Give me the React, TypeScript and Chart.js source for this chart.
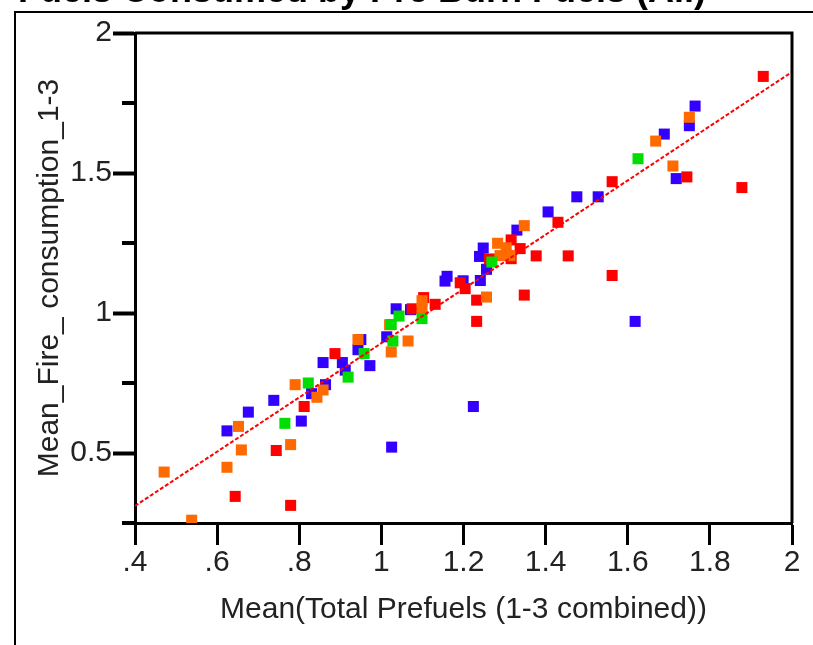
import React, { useEffect, useRef } from 'react';
import { Chart, registerables } from 'chart.js';

Chart.register(...registerables);

const chartTitle = 'Fuels Consumed by Pre Burn Fuels (All)';
const xAxisTitle = 'Mean(Total Prefuels (1-3 combined))';
const yAxisTitle = 'Mean_Fire_ consumption_1-3';

const xTickValues = [0.4, 0.6, 0.8, 1, 1.2, 1.4, 1.6, 1.8, 2];
const xTickLabels = ['.4', '.6', '.8', '1', '1.2', '1.4', '1.6', '1.8', '2'];
const yTickValues = [0.5, 1, 1.5, 2];
const yTickLabels = ['0.5', '1', '1.5', '2'];
const yMinorTickValues = [0.25, 0.75, 1.25, 1.75];

const blueX = [0.624, 0.676, 0.738, 0.805, 0.83, 0.864, 0.858, 0.905, 0.912, 0.972, 0.943, 0.95, 1.013, 1.036, 1.071, 1.025, 1.224, 1.16, 1.155, 1.199, 1.241, 1.256, 1.248, 1.239, 1.33, 1.406, 1.476, 1.528, 1.618, 1.718, 1.689, 1.75, 1.764];
const blueY = [0.579, 0.646, 0.688, 0.614, 0.712, 0.744, 0.823, 0.823, 0.796, 0.812, 0.869, 0.905, 0.915, 1.015, 1.012, 0.521, 0.666, 1.131, 1.114, 1.115, 1.116, 1.156, 1.232, 1.202, 1.296, 1.361, 1.415, 1.415, 0.97, 1.48, 1.639, 1.669, 1.739];

const redX = [0.644, 0.779, 0.744, 0.812, 0.887, 1.075, 1.103, 1.131, 1.192, 1.204, 1.232, 1.232, 1.348, 1.263, 1.316, 1.316, 1.338, 1.377, 1.455, 1.43, 1.562, 1.562, 1.744, 1.878, 1.93];
const redY = [0.345, 0.313, 0.509, 0.666, 0.855, 1.015, 1.055, 1.031, 1.108, 1.087, 1.046, 0.97, 1.064, 1.193, 1.194, 1.261, 1.23, 1.204, 1.204, 1.324, 1.134, 1.469, 1.486, 1.448, 1.845];

const orangeX = [0.471, 0.538, 0.624, 0.652, 0.659, 0.779, 0.79, 0.843, 0.858, 0.943, 1.02, 1.024, 1.065, 1.099, 1.099, 1.256, 1.283, 1.304, 1.289, 1.313, 1.348, 1.668, 1.71, 1.75];
const orangeY = [0.432, 0.26, 0.449, 0.595, 0.511, 0.53, 0.744, 0.699, 0.725, 0.905, 0.958, 0.861, 0.9, 1.044, 1.014, 1.057, 1.249, 1.233, 1.205, 1.205, 1.312, 1.614, 1.525, 1.699];

const greenX = [0.765, 0.822, 0.919, 0.958, 1.024, 1.028, 1.043, 1.099, 1.269, 1.625];
const greenY = [0.606, 0.75, 0.771, 0.855, 0.959, 0.9, 0.989, 0.98, 1.182, 1.551];

const fitX = [0.4, 2];
const fitY = [0.311, 1.861];

const FAMILY = '"Liberation Sans", Arial, Helvetica, sans-serif';
const TEXT = '#222222';

const pts = (xs: number[], ys: number[]) => xs.map((x, i) => ({ x, y: ys[i] }));

const squares = (label: string, xs: number[], ys: number[], color: string) => ({
  type: 'scatter' as const,
  label,
  data: pts(xs, ys),
  backgroundColor: color,
  borderColor: color,
  borderWidth: 0,
  pointBorderWidth: 0,
  pointStyle: 'rect',
  pointRadius: 7.8,
  pointHoverRadius: 7.8,
  clip: 0,
});

const decorPlugin = {
  id: 'decor',
  afterDraw(chart: any) {
    const { ctx, chartArea, scales } = chart;
    ctx.save();
    // outer frame
    ctx.strokeStyle = '#000';
    ctx.lineWidth = 2;
    ctx.beginPath();
    ctx.moveTo(15, chart.height);
    ctx.lineTo(15, 12);
    ctx.lineTo(chart.width, 12);
    ctx.stroke();
    // plot frame top/right
    ctx.lineWidth = 3;
    ctx.beginPath();
    ctx.moveTo(chartArea.left, chartArea.top);
    ctx.lineTo(chartArea.right, chartArea.top);
    ctx.lineTo(chartArea.right, chartArea.bottom);
    ctx.stroke();
    // minor y ticks
    ctx.lineWidth = 4;
    ctx.beginPath();
    for (const v of yMinorTickValues) {
      const y = scales.y.getPixelForValue(v);
      ctx.moveTo(chartArea.left - 13, y);
      ctx.lineTo(chartArea.left, y);
    }
    ctx.stroke();
    // title (top cut off)
    ctx.fillStyle = '#000';
    ctx.font = `bold 36px ${FAMILY}`;
    ctx.textBaseline = 'alphabetic';
    ctx.textAlign = 'left';
    ctx.fillText(chartTitle, 18, 2);
    ctx.restore();
  },
};

export default function App() {
  const ref = useRef<HTMLCanvasElement>(null);
  useEffect(() => {
    if (!ref.current) return;
    const chart = new Chart(ref.current, {
      type: 'scatter',
      data: {
        datasets: [
          {
            type: 'line',
            label: 'fit',
            data: pts(fitX, fitY),
            borderColor: '#ff0000',
            borderWidth: 2,
            borderDash: [4, 2],
            pointRadius: 0,
            fill: false,
            showLine: true,
          } as any,
          squares('green', greenX, greenY, '#00dd00'),
          squares('orange', orangeX, orangeY, '#ff6a00'),
          squares('red', redX, redY, '#ff0000'),
          squares('blue', blueX, blueY, '#3300ff'),
        ],
      },
      options: {
        responsive: false,
        animation: false,
        devicePixelRatio: 1,
        layout: { padding: { top: 33, right: 21, bottom: 0, left: 0 } },
        plugins: { legend: { display: false }, tooltip: { enabled: false }, title: { display: false } },
        scales: {
          x: {
            type: 'linear',
            min: 0.4,
            max: 2,
            afterBuildTicks: (s: any) => {
              s.ticks = xTickValues.map((v) => ({ value: v }));
            },
            afterFit: (s: any) => {
              s.height = 122;
            },
            ticks: {
              autoSkip: false,
              maxRotation: 0,
              padding: 0,
              color: TEXT,
              font: { family: FAMILY, size: 30 },
              callback: (_v: any, i: number) => xTickLabels[i],
            },
            grid: { drawOnChartArea: false, drawTicks: true, tickLength: 22, tickWidth: 3, tickColor: '#000', color: '#000' },
            border: { display: true, color: '#000', width: 3 },
            title: { display: true, text: xAxisTitle, color: TEXT, font: { family: FAMILY, size: 30 }, padding: { top: 0, bottom: 17 } },
          },
          y: {
            type: 'linear',
            min: 0.25,
            max: 2,
            afterBuildTicks: (s: any) => {
              s.ticks = yTickValues.map((v) => ({ value: v }));
            },
            afterFit: (s: any) => {
              s.width = 135;
            },
            ticks: {
              autoSkip: false,
              padding: 1,
              color: TEXT,
              font: { family: FAMILY, size: 30 },
              callback: (_v: any, i: number) => yTickLabels[i],
            },
            grid: { drawOnChartArea: false, drawTicks: true, tickLength: 22, tickWidth: 4, tickColor: '#000', color: '#000' },
            border: { display: true, color: '#000', width: 3 },
            title: { display: true, text: yAxisTitle, color: TEXT, font: { family: FAMILY, size: 30 }, padding: { top: 32, bottom: 0 } },
          },
        },
      } as any,
      plugins: [decorPlugin],
    });
    return () => chart.destroy();
  }, []);
  return (
    <div style={{ position: 'absolute', left: 0, top: 0, width: 813, height: 645 }}>
      <canvas ref={ref} width={813} height={645} style={{ display: 'block' }} />
    </div>
  );
}
